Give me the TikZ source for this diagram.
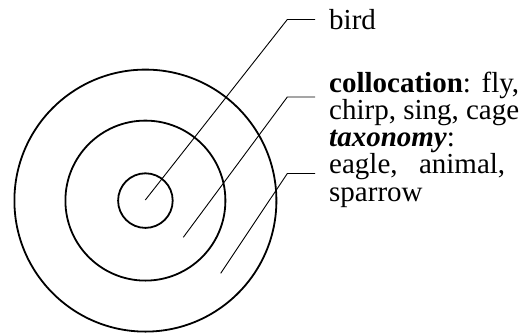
\documentclass[tikz,border=0pt]{standalone}
\usepackage{fontspec}
\setmainfont{Liberation Serif}
\newcommand{\toprule}{\rule{0pt}{20pt}}
\begin{document}
\begin{tikzpicture}[x=1pt,y=-1pt,
  ring/.style={draw=black, line width=1.8pt},
  leader/.style={draw=black, line width=0.9pt},
  lbl/.style={anchor=north west, inner sep=0pt, align=left}]
\useasboundingbox (0,0) rectangle (522,333);
% circles
\coordinate (c) at (145.4,200.6);
\draw[ring] (c) circle[radius=131];
\draw[ring] (c) circle[radius=80];
\draw[ring] (c) circle[radius=27.3];
% leader coordinates
\coordinate (s1) at (145.3,200);
\coordinate (b1) at (287.3,19.5);
\coordinate (e1) at (315,19.5);
\coordinate (s2) at (183.3,237.3);
\coordinate (b2) at (287.3,97);
\coordinate (e2) at (315,97);
\coordinate (s3) at (220.7,273.3);
\coordinate (b3) at (287.3,173.5);
\coordinate (e3) at (315,173.5);
\draw[leader] (s1) -- (b1) -- (e1);
\draw[leader] (s2) -- (b2) -- (e2);
\draw[leader] (s3) -- (b3) -- (e3);
% texts
\node[lbl, font=\fontsize{29}{29}\selectfont] (bird) at (329,9) {\toprule bird};
\node[lbl, font=\fontsize{29}{25.3}\selectfont] (col) at (329,71.5)
  {\toprule\makebox[190pt][s]{\textbf{collocation}: fly,}\\\makebox[190pt][s]{chirp, sing, cage}};
\node[lbl, font=\fontsize{29}{27.5}\selectfont] (tax) at (329,126)
  {\toprule\textbf{\textit{taxonomy}}:\\\makebox[176pt][s]{eagle, animal,}\\sparrow};
\end{tikzpicture}
\end{document}
